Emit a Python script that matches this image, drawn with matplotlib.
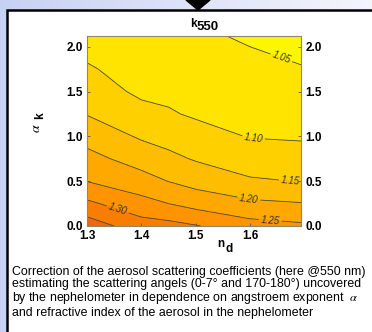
import numpy as np
import matplotlib
matplotlib.use("Agg")
import matplotlib.pyplot as plt
from matplotlib.patches import Rectangle, Polygon

plt.rcParams['font.family'] = ['Liberation Sans', 'DejaVu Sans']
plt.rcParams['mathtext.fontset'] = 'stix'

# refractive index (x) and angstroem exponent (y), correction factor k550
nd = [1.30, 1.40, 1.45, 1.50, 1.60, 1.70]
alpha = [0.0, 0.25, 0.5, 0.75, 1.0, 1.25, 1.5, 1.75, 2.0, 2.12]
k_130 = [1.378, 1.310, 1.249, 1.216, 1.182, 1.148, 1.127, 1.106, 1.085, 1.075]
k_140 = [1.322, 1.267, 1.220, 1.179, 1.144, 1.117, 1.090, 1.077, 1.065, 1.060]
k_145 = [1.316, 1.250, 1.199, 1.162, 1.132, 1.104, 1.091, 1.080, 1.070, 1.064]
k_150 = [1.303, 1.232, 1.182, 1.146, 1.116, 1.095, 1.084, 1.074, 1.063, 1.058]
k_160 = [1.269, 1.210, 1.156, 1.124, 1.098, 1.086, 1.074, 1.062, 1.050, 1.044]
k_170 = [1.258, 1.202, 1.148, 1.118, 1.095, 1.080, 1.066, 1.052, 1.038, 1.031]

levels = [1.00, 1.05, 1.10, 1.15, 1.20, 1.25, 1.30, 1.35, 1.45]
band_colors = ['#FCF600', '#FFE400', '#FFD000', '#FFBD00', '#FFA800',
               '#FF9400', '#F97E00', '#F06610']

caption = ("Correction of the aerosol scattering coefficients (here @550 nm)\n"
           "estimating the scattering angels (0-7\u00b0 and 170-180\u00b0) uncovered\n"
           "by the nephelometer in dependence on angstroem exponent  $\\alpha$\n"
           "and refractive index of the aerosol in the nephelometer")

Z = np.array([k_130, k_140, k_145, k_150, k_160, k_170]).T
X, Y = np.meshgrid(nd, alpha)

fig = plt.figure(figsize=(3.72, 3.32), dpi=100)

# slide background + white panel
bg = fig.add_axes([0, 0, 1, 1])
bg.set_xlim(0, 372)
bg.set_ylim(332, 0)
bg.axis('off')
grad = np.linspace(0, 1, 200)[None, :]
bg.imshow(np.dstack([0.78 + 0.18 * grad, 0.82 + 0.14 * grad, 0.95 + 0.04 * grad]),
          extent=[0, 372, 332, 0], aspect='auto')
bg.add_patch(Rectangle((7, 10), 380, 340, facecolor='white', edgecolor='black', lw=1.8))
bg.add_patch(Polygon([(186, 0), (210, 0), (198, 10)], closed=True, color='black'))
bg.text(12.5, 265.5, caption, fontsize=8.9, va='top', ha='left', linespacing=1.05)

ax = fig.add_axes([0.2339, 0.3193, 0.5753, 0.5723])
ax.contourf(X, Y, Z, levels=levels, colors=band_colors)
cs = ax.contour(X, Y, Z, levels=levels[1:-1], colors='#4a4a3a', linewidths=0.6)
lab_pos = [(1.655, 1.83), (1.606, 0.94), (1.674, 0.49), (1.597, 0.28),
           (1.637, 0.056), (1.355, 0.156)]
cl = ax.clabel(cs, levels=levels[1:7], fmt='%.2f', fontsize=7, colors='#333333',
               inline=True, inline_spacing=2, manual=lab_pos)
for t in cl:
    t.set_fontstyle('italic')

ax.set_xlim(1.3, 1.694)
ax.set_ylim(0, 2.12)
ax.set_xticks([1.3, 1.4, 1.5, 1.6])
ax.set_yticks([0.0, 0.5, 1.0, 1.5, 2.0])
ax.xaxis.set_major_formatter(plt.FormatStrFormatter('%.1f'))
ax.yaxis.set_major_formatter(plt.FormatStrFormatter('%.1f'))
ax.tick_params(direction='in', length=2, width=0.6, color='#555555',
               labelsize=8.5, pad=3, right=True, labelright=True)
for lbl in ax.get_xticklabels() + ax.get_yticklabels():
    lbl.set_fontweight('bold')
for s in ax.spines.values():
    s.set_color('#8a8a6a')
    s.set_linewidth(0.8)

# title k550, axis labels
fig.text(193 / 372, 1 - 27 / 332, 'k', fontsize=8.5, fontweight='bold', ha='center', va='baseline')
fig.text(208 / 372, 1 - 30 / 332, '550', fontsize=9.5, fontweight='bold', ha='center', va='baseline')
fig.text(221 / 372, 1 - 247 / 332, 'n', fontsize=8.5, fontweight='bold', ha='center', va='baseline')
fig.text(229 / 372, 1 - 252 / 332, 'd', fontsize=8.5, fontweight='bold', ha='center', va='baseline')
fig.text(36 / 372, 1 - 128 / 332, '$\\alpha$', fontsize=10, rotation=90, ha='center', va='center')
fig.text(40 / 372, 1 - 116 / 332, 'k', fontsize=8.5, fontweight='bold', rotation=90,
         ha='center', va='center')

fig.savefig('out.png', dpi=100)
